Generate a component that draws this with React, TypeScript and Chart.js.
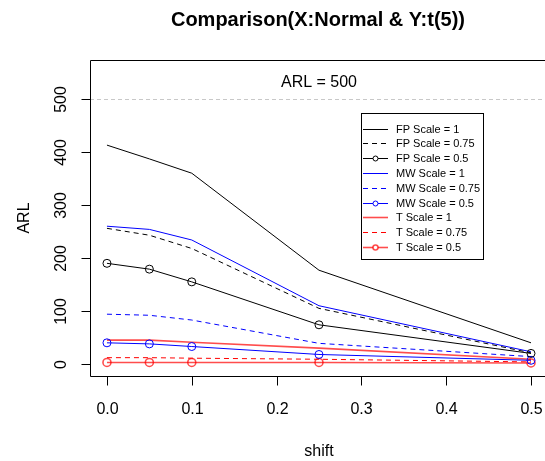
import React, { useEffect, useRef } from "react";
import { Chart, registerables } from "chart.js";

Chart.register(...registerables);

const shift = [0, 0.05, 0.1, 0.25, 0.5];
const fp1 = [413, 387, 360, 177, 40];
const fp075 = [256, 243, 218, 105, 21];
const fp05 = [190, 179, 155, 74, 20];
const mw1 = [260, 254, 234, 110, 23];
const mw075 = [94, 92, 83, 39, 14];
const mw05 = [40, 38, 33, 18, 7];
const t1 = [45, 45, 41, 30, 9];
const t075 = [12, 12, 11, 9, 4];
const t05 = [3, 3, 3, 3, 2];

const xTicks = [0, 0.1, 0.2, 0.3, 0.4, 0.5];
const yTicks = [0, 100, 200, 300, 400, 500];
const refValue = 500;
const refLabel = "ARL = 500";
const titleText = "Comparison(X:Normal & Y:t(5))";
const xTitle = "shift";
const yTitle = "ARL";

const FONT = "'Liberation Sans', Arial, sans-serif";
const BLACK = "#000000";
const BLUE = "#0000ff";
const RED = "rgba(255,0,0,0.7)";

type S = { label: string; data: number[]; color: string; dash: number[]; marker: boolean; width: number };
const DASH = [5, 4];
const series: S[] = [
  { label: "FP Scale = 1", data: fp1, color: BLACK, dash: [], marker: false, width: 1 },
  { label: "FP Scale = 0.75", data: fp075, color: BLACK, dash: DASH, marker: false, width: 1 },
  { label: "FP Scale = 0.5", data: fp05, color: BLACK, dash: [], marker: true, width: 1 },
  { label: "MW Scale = 1", data: mw1, color: BLUE, dash: [], marker: false, width: 1 },
  { label: "MW Scale = 0.75", data: mw075, color: BLUE, dash: DASH, marker: false, width: 1 },
  { label: "MW Scale = 0.5", data: mw05, color: BLUE, dash: [], marker: true, width: 1 },
  { label: "T Scale = 1", data: t1, color: RED, dash: [], marker: false, width: 1.6 },
  { label: "T Scale = 0.75", data: t075, color: "#ff0000", dash: DASH, marker: false, width: 1 },
  { label: "T Scale = 0.5", data: t05, color: RED, dash: [], marker: true, width: 1.6 },
];

const rPlugin = {
  id: "rstyle",
  beforeDatasetsDraw(chart: any) {
    const { ctx, chartArea: a, scales } = chart;
    const x = scales.x, y = scales.y;
    ctx.save();
    const yr = Math.round(y.getPixelForValue(refValue)) + 0.5;
    ctx.strokeStyle = "#c8c8c8";
    ctx.lineWidth = 1;
    ctx.setLineDash([4, 3]);
    ctx.beginPath();
    ctx.moveTo(a.left, yr);
    ctx.lineTo(a.right, yr);
    ctx.stroke();
    ctx.setLineDash([]);
    ctx.fillStyle = "#000";
    ctx.font = `16px ${FONT}`;
    ctx.textAlign = "center";
    ctx.textBaseline = "middle";
    ctx.fillText(refLabel, x.getPixelForValue(0.25), yr - 17);
    ctx.restore();
  },
  afterDatasetsDraw(chart: any) {
    const { ctx, chartArea: a, scales } = chart;
    const x = scales.x, y = scales.y;
    ctx.save();
    ctx.strokeStyle = "#000";
    ctx.lineWidth = 1;
    const L = Math.round(a.left) + 0.5, T = Math.round(a.top) + 0.5, B = Math.round(a.bottom) + 0.5;
    ctx.beginPath();
    ctx.moveTo(a.right + 2, T);
    ctx.lineTo(L, T);
    ctx.lineTo(L, B);
    ctx.lineTo(a.right + 2, B);
    ctx.stroke();
    ctx.fillStyle = "#000";
    ctx.font = `16px ${FONT}`;
    ctx.textAlign = "center";
    ctx.textBaseline = "middle";
    for (const v of xTicks) {
      const px = Math.round(x.getPixelForValue(v)) + 0.5;
      ctx.beginPath();
      ctx.moveTo(px, B);
      ctx.lineTo(px, B + 9);
      ctx.stroke();
      ctx.fillText(v.toFixed(1), px, 410);
    }
    for (const v of yTicks) {
      const py = Math.round(y.getPixelForValue(v)) + 0.5;
      ctx.beginPath();
      ctx.moveTo(L, py);
      ctx.lineTo(L - 9, py);
      ctx.stroke();
      ctx.save();
      ctx.translate(62, py);
      ctx.rotate(-Math.PI / 2);
      ctx.fillText(String(v), 0, 0);
      ctx.restore();
    }
    const cx = (x.getPixelForValue(-0.02) + x.getPixelForValue(0.52)) / 2;
    ctx.fillText(xTitle, cx, 452);
    ctx.save();
    ctx.translate(25, (a.top + a.bottom) / 2);
    ctx.rotate(-Math.PI / 2);
    ctx.fillText(yTitle, 0, 0);
    ctx.restore();
    ctx.font = `bold 20px ${FONT}`;
    ctx.fillText(titleText, cx - 1, 20);
    const lx = 361.5, ly = 113.5, lw = 122, lh = 146;
    ctx.fillStyle = "#fff";
    ctx.fillRect(lx, ly, lw, lh);
    ctx.strokeStyle = "#000";
    ctx.strokeRect(lx, ly, lw, lh);
    ctx.font = `11px ${FONT}`;
    ctx.textAlign = "left";
    series.forEach((s, i) => {
      const ry = Math.round(128.5 + i * 14.8) + 0.5;
      ctx.strokeStyle = s.color;
      ctx.lineWidth = s.width;
      ctx.setLineDash(s.dash);
      ctx.beginPath();
      ctx.moveTo(363, ry);
      ctx.lineTo(388, ry);
      ctx.stroke();
      ctx.setLineDash([]);
      if (s.marker) {
        ctx.beginPath();
        ctx.arc(375.5, ry, 2.5, 0, Math.PI * 2);
        ctx.fillStyle = "#fff";
        ctx.fill();
        ctx.stroke();
      }
      ctx.fillStyle = "#000";
      ctx.fillText(s.label, 396, ry);
    });
    ctx.restore();
  },
};

export default function App() {
  const ref = useRef<HTMLCanvasElement | null>(null);
  useEffect(() => {
    if (!ref.current) return;
    const chart = new Chart(ref.current, {
      type: "line",
      data: {
        datasets: series.map((s) => ({
          label: s.label,
          data: s.data.map((v, i) => ({ x: shift[i], y: v })),
          borderColor: s.color,
          borderWidth: s.width,
          borderDash: s.dash,
          backgroundColor: "rgba(0,0,0,0)",
          pointRadius: s.marker ? 4 : 0,
          pointBorderWidth: s.width,
          pointBorderColor: s.color,
          pointBackgroundColor: "rgba(0,0,0,0)",
          tension: 0,
          fill: false,
        })),
      },
      options: {
        animation: false,
        responsive: false,
        devicePixelRatio: 1,
        layout: { autoPadding: false, padding: { left: 90, top: 60, right: 0, bottom: 85 } },
        plugins: { legend: { display: false }, title: { display: false }, tooltip: { enabled: false } },
        scales: {
          x: { type: "linear", min: -0.02, max: 0.5165, display: false },
          y: { type: "linear", min: -22.6, max: 573.6, display: false },
        },
      },
      plugins: [rPlugin],
    });
    return () => chart.destroy();
  }, []);
  return (
    <div style={{ position: "fixed", left: 0, top: 0, width: 545, height: 461, background: "#fff" }}>
      <canvas ref={ref} width={545} height={461} />
    </div>
  );
}
